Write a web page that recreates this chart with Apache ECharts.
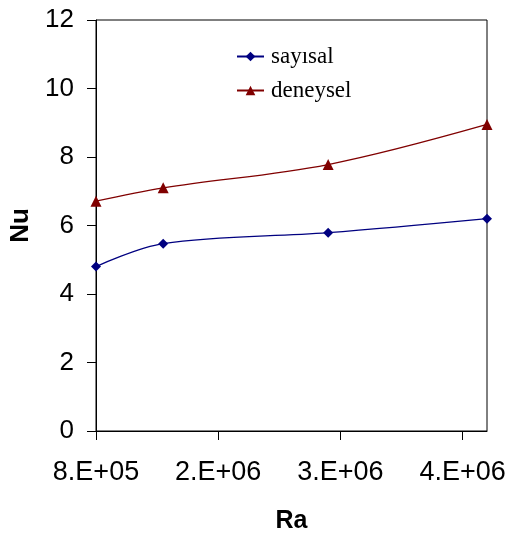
<!DOCTYPE html>
<html>
<head>
<meta charset="utf-8">
<script src="https://cdn.jsdelivr.net/npm/echarts@6/dist/echarts.min.js"></script>
<style>
html,body{margin:0;padding:0;background:#fff;}
#c{width:511px;height:536px;}
</style>
</head>
<body>
<div id="c"></div>
<script>
var ra = [800000, 1350000, 2700000, 4000000];
var sayisal = [4.80, 5.47, 5.79, 6.20];
var deneysel = [6.71, 7.10, 7.78, 8.95];
var xTicks = [800000, 1800000, 2800000, 3800000];
var seriesNames = ['sayısal', 'deneysel'];

function fmtSci(v) {
  var s = Number(v).toExponential(0); // e.g. "8e+5"
  var parts = s.split('e');
  var exp = parseInt(parts[1], 10);
  var sign = exp < 0 ? '-' : '+';
  var e = Math.abs(exp);
  return parts[0] + '.E' + sign + (e < 10 ? '0' + e : e);
}

var chart = echarts.init(document.getElementById('c'), null, {renderer: 'canvas'});
chart.setOption({
  animation: false,
  backgroundColor: '#fff',
  grid: {left: 96, right: 24, top: 20, bottom: 105, containLabel: false, outerBoundsMode: 'none', show: true, borderColor: '#000', borderWidth: 1, backgroundColor: 'transparent'},
  legend: {
    orient: 'vertical',
    left: 231,
    top: 40,
    itemWidth: 27,
    itemHeight: 12,
    itemGap: 11,
    textStyle: {fontFamily: 'Liberation Serif', fontSize: 23, color: '#000', padding: [0, 0, 0, 2]},
    data: seriesNames
  },
  xAxis: {
    type: 'value',
    min: 800000,
    max: 4000000,
    name: 'Ra',
    nameLocation: 'middle',
    nameGap: 78,
    nameTextStyle: {fontFamily: 'Liberation Sans', fontWeight: 'bold', fontSize: 25, color: '#000'},
    axisLine: {show: true, lineStyle: {color: '#000', width: 1}},
    axisTick: {show: true, length: 9, lineStyle: {color: '#000'}, customValues: xTicks},
    axisLabel: {customValues: xTicks, formatter: fmtSci, fontFamily: 'Liberation Sans', fontSize: 27, color: '#000', margin: 28},
    splitLine: {show: false}
  },
  yAxis: {
    type: 'value',
    min: 0,
    max: 12,
    interval: 2,
    name: 'Nu',
    nameLocation: 'middle',
    nameRotate: 90,
    nameGap: 62,
    nameTextStyle: {fontFamily: 'Liberation Sans', fontWeight: 'bold', fontSize: 26, color: '#000'},
    axisLine: {show: true, lineStyle: {color: '#000', width: 1}},
    axisTick: {show: true, length: 9, lineStyle: {color: '#000'}},
    axisLabel: {fontFamily: 'Liberation Sans', fontSize: 26, color: '#000', margin: 22},
    splitLine: {show: false}
  },
  series: [
    {
      name: seriesNames[0],
      type: 'line',
      smooth: 0.35,
      data: ra.map(function (x, i) { return [x, sayisal[i]]; }),
      symbol: 'diamond',
      symbolSize: 10,
      itemStyle: {color: '#000080'},
      lineStyle: {color: '#000080', width: 1.3}
    },
    {
      name: seriesNames[1],
      type: 'line',
      smooth: 0.35,
      data: ra.map(function (x, i) { return [x, deneysel[i]]; }),
      symbol: 'triangle',
      symbolSize: 11,
      itemStyle: {color: '#800000'},
      lineStyle: {color: '#800000', width: 1.3}
    }
  ]
});
</script>
</body>
</html>
